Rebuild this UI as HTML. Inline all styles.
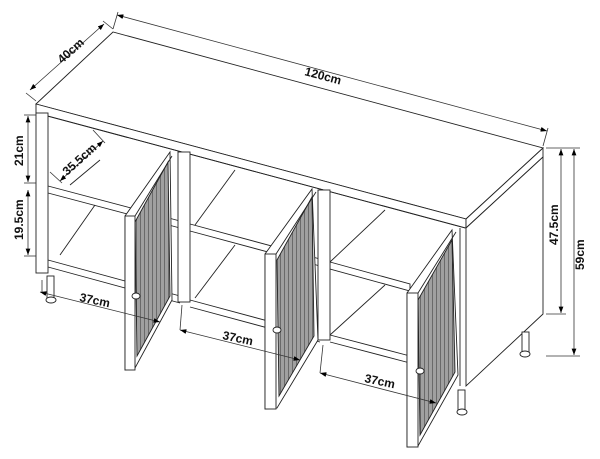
<!DOCTYPE html>
<html><head><style>body{margin:0;background:#fff}svg{display:block}</style></head><body>
<svg width="600" height="459" viewBox="0 0 600 459" xmlns="http://www.w3.org/2000/svg" font-family="Liberation Sans, sans-serif">
<defs>
<pattern id="mesh" width="4" height="4" patternUnits="userSpaceOnUse"><rect width="4" height="4" fill="#a0a0a0"/><rect width="1" height="4" fill="#6a6a6a"/></pattern>
<marker id="a" markerWidth="8" markerHeight="6" refX="8" refY="3" orient="auto"><path d="M0,0L8,3L0,6z" fill="#000"/></marker>
<marker id="b" markerWidth="8" markerHeight="6" refX="0" refY="3" orient="auto"><path d="M8,0L0,3L8,6z" fill="#000"/></marker>
</defs>
<g stroke="#222" stroke-width="0.9" fill="#fff">
<polygon points="36,104 113,32 543,148 466,219"/>
<polygon points="36,104 466,219 466,228 36,113"/>
<polygon points="466,219 543,148 543,157 466,228"/>
<polygon points="466,228 543,157 543,314 466,386"/>
<line x1="460" y1="228" x2="460" y2="386"/>
<line x1="48" y1="116" x2="465" y2="228"/>
<line x1="48" y1="186" x2="180" y2="221"/>
<line x1="48" y1="193" x2="180" y2="228"/>
<line x1="190" y1="224" x2="320" y2="259"/>
<line x1="190" y1="231" x2="320" y2="266"/>
<polygon points="330,262 410,284 410,291 330,269"/>
<line x1="330" y1="262" x2="385" y2="210"/>
<line x1="48" y1="260" x2="180" y2="296"/>
<line x1="48" y1="267" x2="180" y2="303"/>
<line x1="190" y1="300" x2="320" y2="335"/>
<line x1="190" y1="307" x2="320" y2="342"/>
<line x1="330" y1="335" x2="410" y2="356"/>
<line x1="330" y1="342" x2="410" y2="363"/>
<line x1="70" y1="185" x2="100" y2="160"/>
<line x1="60" y1="255" x2="95" y2="205"/>
<line x1="195" y1="225" x2="235" y2="170"/>
<line x1="195" y1="298" x2="235" y2="245"/>
<line x1="330" y1="335" x2="385" y2="285"/>
<rect x="36" y="113" width="12" height="160"/>
<rect x="178" y="152" width="12" height="150"/>
<rect x="318" y="190" width="12" height="150"/>
<rect x="47" y="276" width="7" height="22"/><ellipse cx="51" cy="300" rx="5" ry="3"/>
<rect x="522" y="332" width="7" height="20"/><ellipse cx="525" cy="354" rx="5" ry="3"/>
<rect x="458" y="390" width="7" height="20"/><ellipse cx="462" cy="412" rx="5" ry="3"/>
<g>
<polygon points="125,216 170,152 172,300 135,368 125,370"/>
<polygon points="135,222 168,162 170,296 137,356" fill="url(#mesh)"/>
<rect x="125" y="216" width="10" height="154"/>
<line x1="135" y1="216" x2="172" y2="156"/>
<ellipse cx="136" cy="296" rx="4" ry="3"/>
</g>
<g>
<polygon points="265,254 312,189 318,340 277,408 265,409"/>
<polygon points="277,260 312,197 314,336 279,396" fill="url(#mesh)"/>
<rect x="265" y="254" width="11" height="155"/>
<line x1="276" y1="254" x2="316" y2="192"/>
<ellipse cx="277" cy="330" rx="4" ry="3"/>
</g>
<g>
<polygon points="407,293 452,230 458,375 418,446 407,447"/>
<polygon points="418,300 452,240 455,372 420,435" fill="url(#mesh)"/>
<rect x="407" y="293" width="11" height="154"/>
<line x1="418" y1="293" x2="456" y2="232"/>
<ellipse cx="420" cy="371" rx="4" ry="3"/>
</g>
</g>
<g stroke="#333" stroke-width="0.8" fill="none">
<line x1="36" y1="101" x2="26" y2="93"/><line x1="113" y1="29" x2="103" y2="21"/>
<line x1="30" y1="90" x2="104" y2="24" marker-end="url(#a)" marker-start="url(#b)"/>
<line x1="113" y1="29" x2="118" y2="12"/><line x1="543" y1="146" x2="548" y2="128"/>
<line x1="117" y1="15" x2="547" y2="131" marker-end="url(#a)" marker-start="url(#b)"/>
<line x1="36" y1="115" x2="24" y2="115"/><line x1="36" y1="183" x2="24" y2="183"/>
<line x1="28" y1="116" x2="28" y2="182" marker-end="url(#a)" marker-start="url(#b)"/>
<line x1="36" y1="256" x2="24" y2="256"/>
<line x1="28" y1="190" x2="28" y2="255" marker-end="url(#a)" marker-start="url(#b)"/>
<line x1="50" y1="172" x2="62" y2="183"/><line x1="93" y1="130" x2="105" y2="143"/>
<line x1="60" y1="181" x2="103" y2="141" marker-end="url(#a)" marker-start="url(#b)"/>
<line x1="546" y1="148" x2="580" y2="148"/><line x1="546" y1="314" x2="566" y2="314"/><line x1="546" y1="356" x2="580" y2="356"/>
<line x1="561" y1="149" x2="561" y2="313" marker-end="url(#a)" marker-start="url(#b)"/>
<line x1="574" y1="149" x2="574" y2="355" marker-end="url(#a)" marker-start="url(#b)"/>
<line x1="42" y1="280" x2="42" y2="293"/>
<line x1="40" y1="292" x2="160" y2="322" marker-start="url(#b)" marker-end="url(#a)"/>
<line x1="182" y1="305" x2="180" y2="330"/>
<line x1="180" y1="330" x2="300" y2="360" marker-start="url(#b)" marker-end="url(#a)"/>
<line x1="323" y1="345" x2="320" y2="373"/>
<line x1="320" y1="373" x2="436" y2="403" marker-start="url(#b)" marker-end="url(#a)"/>
</g>
<g fill="#111" font-size="12" font-weight="bold" font-family="Liberation Sans, sans-serif">
<text transform="translate(62,64) rotate(-42)">40cm</text>
<text transform="translate(304,75) rotate(15)">120cm</text>
<text transform="translate(23,166) rotate(-90)">21cm</text>
<text transform="translate(23,240) rotate(-90)">19.5cm</text>
<text transform="translate(67,176) rotate(-42)">35.5cm</text>
<text transform="translate(558,245) rotate(-90)">47.5cm</text>
<text transform="translate(584,270) rotate(-90)">59cm</text>
<text transform="translate(79,301) rotate(12)">37cm</text>
<text transform="translate(222,339) rotate(12)">37cm</text>
<text transform="translate(364,382) rotate(12)">37cm</text>
</g>
</svg>
</body></html>
